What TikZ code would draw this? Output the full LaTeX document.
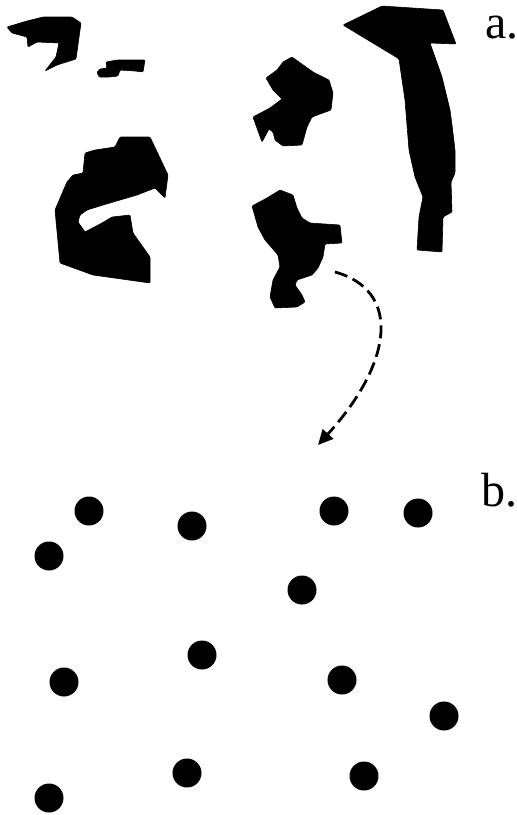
\documentclass[tikz,border=0pt]{standalone}
\usepackage{fontspec}
\setmainfont{Liberation Serif}
\usetikzlibrary{arrows.meta}
\begin{document}
\begin{tikzpicture}[x=1pt,y=-1pt,
  blob/.style={fill=black,draw=black,line width=0.6pt,line join=round,rounded corners=1pt},
  dot/.style={circle,fill=black,minimum size=29pt,inner sep=0pt},
  lab/.style={anchor=base west,inner sep=0pt,font=\fontsize{48}{58}\selectfont},
  flow/.style={line width=2.8pt,dash pattern=on 13pt off 6pt,-{Triangle[length=15pt,width=14pt]}}]
\useasboundingbox (0,0) rectangle (517,815);
% part a: fragments
\filldraw[blob] (7,27) -- (27,21) -- (43,17) -- (72,17) -- (81,23) -- (76,59) -- (57,65) -- (45,71) -- (56,57) -- (59,43) -- (37,42) -- (28,47) -- (27,37) -- (12,33) -- cycle;
\filldraw[blob] (97,72) -- (100,69) -- (107,68) -- (106,62) -- (117,60) -- (145,60) -- (143,72) -- (135,71) -- (120,70) -- (118,76) -- (110,77) -- (99,77) -- cycle;
\filldraw[blob] (343,25) -- (382,6) -- (443,10) -- (456,44) -- (430,43) -- (442,77) -- (450,110) -- (452,125) -- (455,150) -- (455,173) -- (451,182) -- (452,212) -- (443,217) -- (442,252) -- (417,250) -- (419,217) -- (423,197) -- (415,177) -- (409,150) -- (405,100) -- (399,59) -- (396,57) -- cycle;
\filldraw[blob] (283,62) -- (292,57) -- (313,72) -- (329,80) -- (333,93) -- (331,110) -- (312,117) -- (307,127) -- (302,145) -- (283,146) -- (275,140) -- (273,132) -- (269,129) -- (262,142) -- (253,117) -- (270,108) -- (282,99) -- (273,90) -- (266,78) -- (277,70) -- cycle;
\filldraw[blob] (252,206) -- (267,198) -- (280,190) -- (293,195) -- (297,208) -- (302,218) -- (310,223) -- (340,225) -- (342,243) -- (325,244) -- (323,257) -- (318,268) -- (312,275) -- (297,280) -- (295,285) -- (302,295) -- (305,302) -- (297,307) -- (275,308) -- (270,297) -- (273,280) -- (280,267) -- (278,255) -- (272,248) -- (265,240) -- (258,227) -- cycle;
\filldraw[blob] (120,137) -- (150,137) -- (168,175) -- (165,198) -- (155,188) -- (137,195) -- (120,200) -- (103,205) -- (87,210) -- (80,215) -- (78,222) -- (85,232) -- (102,223) -- (112,217) -- (130,215) -- (133,233) -- (150,257) -- (150,283) -- (93,275) -- (60,263) -- (55,210) -- (67,182) -- (73,175) -- (83,173) -- (85,153) -- (95,150) -- (115,147) -- cycle;
% labels
\node[lab] (la) at (485,38) {a.};
\node[lab] (lb) at (481,506) {b.};
% arrow
\coordinate (s) at (335,272);
\coordinate (e) at (318,445);
\draw[flow] (s) .. controls (400,290) and (395,360) .. (e);
% part b: dots
\node[dot] (d1) at (89,511) {};
\node[dot] (d2) at (192,526) {};
\node[dot] (d3) at (334,511) {};
\node[dot] (d4) at (418,513) {};
\node[dot] (d5) at (49,556) {};
\node[dot] (d6) at (302,590) {};
\node[dot] (d7) at (202,655) {};
\node[dot] (d8) at (64,682) {};
\node[dot] (d9) at (342,680) {};
\node[dot] (d10) at (444,716) {};
\node[dot] (d11) at (187,773) {};
\node[dot] (d12) at (364,776) {};
\node[dot] (d13) at (49,798) {};
\end{tikzpicture}
\end{document}
